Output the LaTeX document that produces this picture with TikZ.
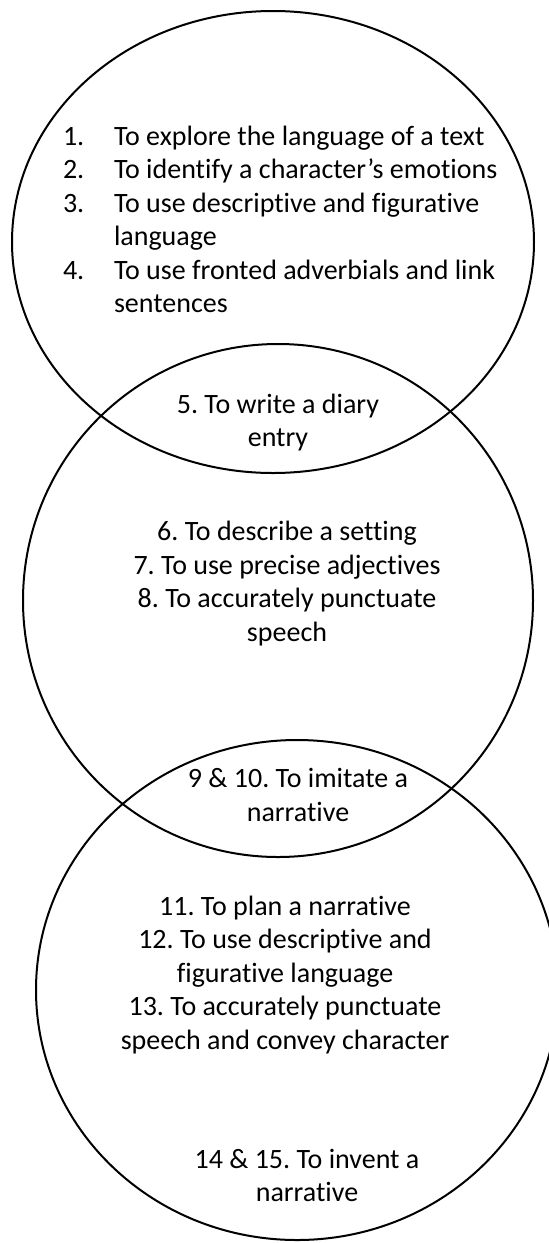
\documentclass[tikz,border=0pt]{standalone}
\usepackage{fontspec}
\setmainfont[RawFeature={-liga;-clig;-calt;-dlig}]{Carlito}
\frenchspacing
\begin{document}
\begin{tikzpicture}[x=1bp,y=-1bp,
  ring/.style={draw=black, line width=2bp},
  txt/.style={inner sep=0pt, outer sep=0pt, font=\fontsize{28bp}{33.5bp}\selectfont, anchor=base},
  lft/.style={txt, anchor=base west}]
\path[use as bounding box] (0,0) rectangle (549,1243);
\clip (0,0) rectangle (549,1243);
% circles
\draw[ring] (273,242) ellipse [x radius=261, y radius=231];
\draw[ring] (278,600.5) ellipse [x radius=255, y radius=256.5];
\draw[ring] (297,990) ellipse [x radius=261, y radius=250];
% block 1
\node[lft] (n1) at (63,145) {1.};
\node[lft] (t1) at (114,145) {To explore the language of a text};
\node[lft] (n2) at (63,178.5) {2.};
\node[lft] (t2) at (114,178.5) {To identify a character’s emotions};
\node[lft] (n3) at (63,212) {3.};
\node[lft] (t3) at (114,212) {To use descriptive and figurative};
\node[lft] (t3b) at (114,245.5) {language};
\node[lft] (n4) at (63,279) {4.};
\node[lft] (t4) at (114,279) {To use fronted adverbials and link};
\node[lft] (t4b) at (114,312.5) {sentences};
% block 2
\node[txt] (d1) at (278,413) {5. To write a diary};
\node[txt] (d2) at (278,446.5) {entry};
% block 3
\node[txt] (s1) at (287,540) {6. To describe a setting};
\node[txt] (s2) at (287,574) {7. To use precise adjectives};
\node[txt] (s3) at (287,607.5) {8. To accurately punctuate};
\node[txt] (s4) at (287,641) {speech};
% block 4
\node[txt] (m1) at (298,787) {9 \& 10. To imitate a};
\node[txt] (m2) at (298,821) {narrative};
% block 5
\node[txt] (p1) at (285,915) {11. To plan a narrative};
\node[txt] (p2) at (285,948.5) {12. To use descriptive and};
\node[txt] (p3) at (285,982) {figurative language};
\node[txt] (p4) at (285,1015.5) {13. To accurately punctuate};
\node[txt] (p5) at (285,1049) {speech and convey character};
% block 6
\node[txt] (i1) at (307,1168) {14 \& 15. To invent a};
\node[txt] (i2) at (307,1201.5) {narrative};
\end{tikzpicture}
\end{document}
